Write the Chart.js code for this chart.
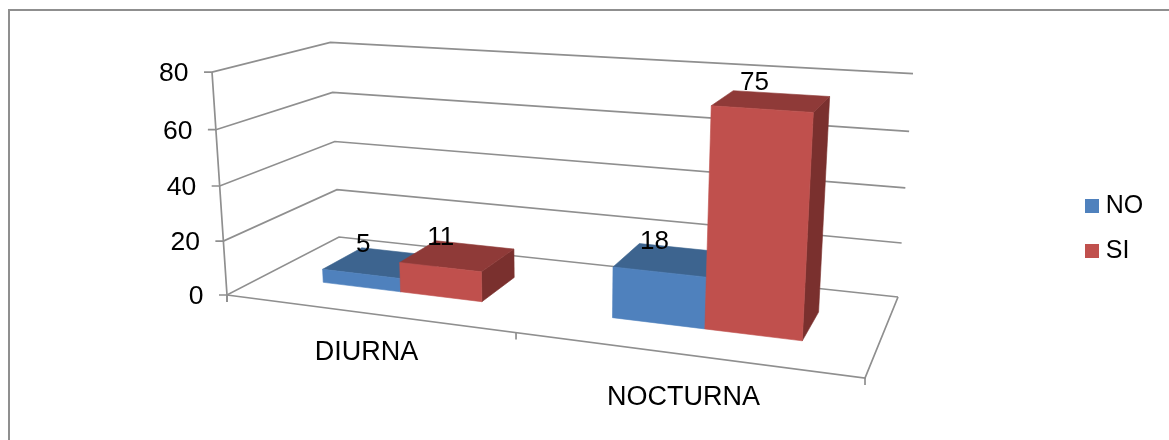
<!DOCTYPE html>
<html>
<head>
<meta charset="utf-8">
<title>DIURNA / NOCTURNA</title>
<script src="https://cdn.jsdelivr.net/npm/chart.js@4/dist/chart.umd.min.js"></script>
<style>
    html, body { margin: 0; padding: 0; background: #fff; }
    canvas { display: block; }
</style>
</head>
<body>
<canvas id="chart_3d" width="1169" height="440"></canvas>
<script>
var categories = ["DIURNA", "NOCTURNA"];
var seriesNames = ["NO", "SI"];
var valuesNo = [5, 18];
var valuesSi = [11, 75];
var axisMax = 80;
var axisStep = 20;

var frontColors = ["#4F81BD", "#C0504D"];
var topColors = ["#3D648F", "#8F3A38"];
var sideColors = ["#335478", "#7A302E"];
var lineColor = "#8F8F8F";
var fontName = "'Liberation Sans', Arial, sans-serif";

// floor homography + vertical vanishing point, taken from the corners of the box
var cam = { a: 489.43, b: 163.35, c: 227, d: 18.08, e: -22.10, f: 295, g: -0.17176, h: 0.15146, k: -0.0427, vx: 563, vy: 5291 };
var zFront = 0.31, zBack = 0.68;
var barShift = 0.004;

function project(x, v, z) {
    var t = v * cam.k * (1 - 0.018 * x);
    var w = 1 + cam.g * x + cam.h * z + t;
    return {
        x: (cam.a * x + cam.b * z + cam.c + t * cam.vx) / w,
        y: (cam.d * x + cam.e * z + cam.f + t * cam.vy) / w,
        w: w
    };
}

function poly(ctx, pts, color) {
    ctx.beginPath();
    pts.forEach(function(p, i) {
        if (i == 0) ctx.moveTo(p.x, p.y); else ctx.lineTo(p.x, p.y);
    });
    ctx.closePath();
    ctx.fillStyle = color;
    ctx.strokeStyle = color;
    ctx.lineWidth = 0.6;
    ctx.fill();
    ctx.stroke();
}

function line(ctx, pts) {
    ctx.beginPath();
    pts.forEach(function(p, i) {
        if (i == 0) ctx.moveTo(p.x, p.y); else ctx.lineTo(p.x, p.y);
    });
    ctx.stroke();
}

function text(ctx, str, x, y, size, align) {
    ctx.font = size + "px " + fontName;
    ctx.fillStyle = "#000";
    ctx.textAlign = align;
    ctx.textBaseline = "middle";
    ctx.fillText(str, x, y);
}

function drawFrame(chart) {
    var ctx = chart.ctx;
    ctx.save();
    ctx.strokeStyle = lineColor;
    ctx.lineWidth = 2;
    ctx.beginPath();
    ctx.moveTo(9, 440);
    ctx.lineTo(9, 10);
    ctx.lineTo(1169, 10);
    ctx.stroke();
    ctx.restore();
}

function drawBox(chart) {
    var ctx = chart.ctx, xs = chart.scales.x, ys = chart.scales.y;
    ctx.save();
    ctx.strokeStyle = lineColor;
    ctx.lineWidth = 1.7;

    ys.ticks.forEach(function(tick) {
        var v = (ys.bottom - ys.getPixelForValue(tick.value)) / ys.height;
        var front = project(0, v, 0);
        line(ctx, [{ x: front.x - 8, y: front.y }, front, project(0, v, 1), project(1, v, 1)]);
        text(ctx, tick.label, front.x - 23.5, front.y + 2, 26.5, "right");
    });

    var corner = project(0, 0, 0);
    line(ctx, [project(0, 1, 0), corner, { x: corner.x, y: corner.y + 7 }]);
    line(ctx, [corner, project(1, 0, 0), project(1, 0, 1)]);

    // ticks sit between the categories, names go under the middle of each one
    var edges = [0];
    categories.forEach(function(name, i) {
        var mid = (xs.getPixelForValue(i) - xs.left) / xs.width;
        edges.push(2 * mid - edges[i]);
        var p = project(mid, 0, 0);
        text(ctx, xs.getLabelForValue(i), p.x + 1.5, p.y + 38 / p.w, 27, "center");
    });
    edges.forEach(function(e) {
        var p = project(e, 0, 0);
        line(ctx, [p, { x: p.x, y: p.y + 7 }]);
    });
    ctx.restore();
}

function drawBars(chart) {
    var ctx = chart.ctx, xs = chart.scales.x, ys = chart.scales.y;
    categories.forEach(function(name, i) {
        chart.data.datasets.forEach(function(ds, d) {
            var bar = chart.getDatasetMeta(d).data[i];
            var x0 = (bar.x - bar.width / 2 - xs.left) / xs.width + barShift;
            var x1 = (bar.x + bar.width / 2 - xs.left) / xs.width + barShift;
            var v = (ys.bottom - bar.y) / ys.height;

            poly(ctx, [project(x1, 0, zFront), project(x1, 0, zBack), project(x1, v, zBack), project(x1, v, zFront)], sideColors[d]);
            poly(ctx, [project(x0, v, zFront), project(x1, v, zFront), project(x1, v, zBack), project(x0, v, zBack)], topColors[d]);
            poly(ctx, [project(x0, 0, zFront), project(x1, 0, zFront), project(x1, v, zFront), project(x0, v, zFront)], frontColors[d]);
        });
    });
    categories.forEach(function(name, i) {
        chart.data.datasets.forEach(function(ds, d) {
            var bar = chart.getDatasetMeta(d).data[i];
            var v = (ys.bottom - bar.y) / ys.height;
            var p = project((bar.x - xs.left) / xs.width + barShift, v, (zFront + zBack) / 2);
            text(ctx, String(ds.data[i]), p.x - 17, p.y - 18, 26, "center");
        });
    });
}

var box3d = {
    id: "box3d",
    afterLayout: function(chart) {
        chart.legend.left = 1070.75;
        chart.legend.top = 173.5;
    },
    beforeDraw: function(chart) {
        drawFrame(chart);
    },
    beforeDatasetsDraw: function(chart) {
        drawBox(chart);
        drawBars(chart);
        return false;
    }
};

new Chart(document.getElementById("chart_3d"), {
    type: "bar",
    data: {
        labels: categories,
        datasets: [
            { label: seriesNames[0], data: valuesNo, backgroundColor: frontColors[0], borderWidth: 0 },
            { label: seriesNames[1], data: valuesSi, backgroundColor: frontColors[1], borderWidth: 0 }
        ]
    },
    options: {
        responsive: false,
        animation: false,
        categoryPercentage: 0.57,
        barPercentage: 1,
        events: [],
        scales: {
            x: { display: false },
            y: { display: false, min: 0, max: axisMax, ticks: { stepSize: axisStep } }
        },
        plugins: {
            tooltip: { enabled: false },
            legend: {
                position: "right",
                align: "start",
                labels: {
                    usePointStyle: true,
                    pointStyle: "rect",
                    boxWidth: 2.5,
                    boxHeight: 14,
                    padding: 20,
                    color: "#000",
                    font: { family: fontName, size: 25 }
                }
            }
        }
    },
    plugins: [box3d]
});
</script>
</body>
</html>
